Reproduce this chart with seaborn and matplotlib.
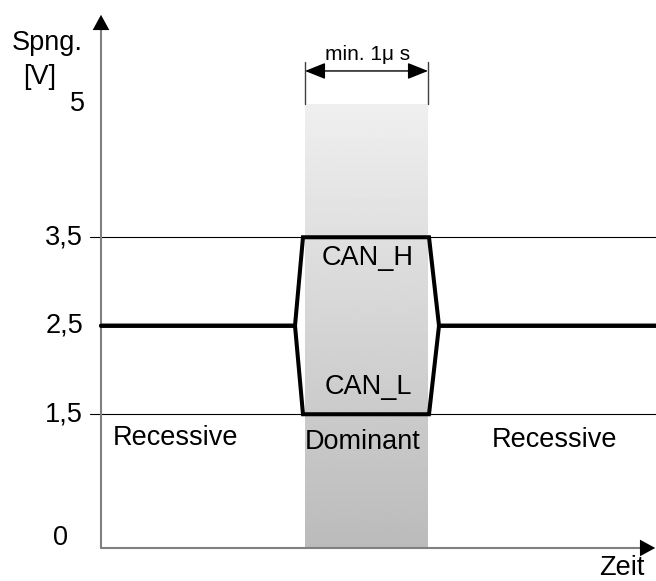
import numpy as np
import pandas as pd
import matplotlib
matplotlib.use("Agg")
import matplotlib.pyplot as plt
import seaborn as sns

# signal levels over time (time in arbitrary units from the y axis)
time_pts = [0, 194, 202, 328, 338, 555]
can_h = [2.5, 2.5, 3.5, 3.5, 2.5, 2.5]
can_l = [2.5, 2.5, 1.5, 1.5, 2.5, 2.5]

# dominant bit window and reference levels
dom_start, dom_end = 204, 327
dom_top = 5
ref_levels = [3.5, 1.5]

ytick_vals = [5, 3.5, 2.5, 1.5, 0]
ytick_labels = ["5", "3,5", "2,5", "1,5", "0"]

sns.set_style("white")
plt.rcParams['font.family'] = ['Liberation Sans', 'DejaVu Sans']
plt.rcParams['text.color'] = 'black'

fig = plt.figure(figsize=(6.56, 5.81), dpi=100)
ax = fig.add_axes([0, 0, 1, 1])
ax.set_axis_off()

# gradient for the dominant window
grad = np.linspace(239, 187, 256).reshape(-1, 1) / 255
ax.imshow(grad, cmap="gray", vmin=0, vmax=1, aspect="auto",
          extent=[dom_start, dom_end, 0, dom_top], zorder=0)

# thin reference lines
for lv in ref_levels:
    ax.plot([-11, 555], [lv, lv], color="black", lw=0.8, zorder=1)

df = pd.DataFrame({
    "t": time_pts * 2,
    "v": can_h + can_l,
    "signal": ["CAN_H"] * len(time_pts) + ["CAN_L"] * len(time_pts),
})
sns.lineplot(data=df, x="t", y="v", hue="signal", palette=["black", "black"],
             sort=False, estimator=None, legend=False, lw=2.9, ax=ax, zorder=3)
for ln in ax.lines[-2:]:
    ln.set_solid_joinstyle("miter")

# axes with arrows
axis_col = "#808080"
ax.plot([0, 0], [-0.011, 5.9], color=axis_col, lw=1.5, zorder=2)
ax.plot([0, 548], [-0.011, -0.011], color=axis_col, lw=1.5, zorder=2)
ax.annotate("", xy=(0, 6.045), xytext=(0, 5.8), annotation_clip=False,
            arrowprops=dict(arrowstyle="-|>,head_length=0.55,head_width=0.3",
                            color="black", lw=0, mutation_scale=20))
ax.annotate("", xy=(557, -0.011), xytext=(540, -0.011), annotation_clip=False,
            arrowprops=dict(arrowstyle="-|>,head_length=0.55,head_width=0.3",
                            color="black", lw=0, mutation_scale=20))

# dimension marker for the bit time
for xx in [dom_start, dom_end]:
    ax.plot([xx, xx], [dom_top, 5.48], color="#404040", lw=1, zorder=2)
ax.annotate("", xy=(dom_start, 5.379), xytext=(dom_end, 5.379),
            arrowprops=dict(arrowstyle="<|-|>,head_length=0.7,head_width=0.28",
                            color="black", lw=1, mutation_scale=18,
                            shrinkA=0, shrinkB=0))
ax.text((dom_start + dom_end) / 2 + 1, 5.56, "min. 1\u03bc s", ha="center",
        va="center", fontsize=15)

fs = 19.5
for v, lab in zip(ytick_vals, ytick_labels):
    if v == 0:
        ax.text(-33, 0.1, lab, ha="right", va="center", fontsize=fs)
    elif v == 5:
        ax.text(-16, v, lab, ha="right", va="center", fontsize=fs)
    else:
        ax.text(-18, v, lab, ha="right", va="center", fontsize=fs)

ax.text(-54, 5.695, "Spng.", ha="center", va="center", fontsize=fs)
ax.text(-61, 5.311, "[V]", ha="center", va="center", fontsize=fs)
ax.text(521, -0.237, "Zeit", ha="center", va="center", fontsize=fs)

ax.text(12, 1.232, "Recessive", ha="left", va="center", fontsize=fs)
ax.text(262, 1.186, "Dominant", ha="center", va="center", fontsize=fs)
ax.text(453, 1.209, "Recessive", ha="center", va="center", fontsize=fs)
ax.text(267, 3.266, "CAN_H", ha="center", va="center", fontsize=fs)
ax.text(267, 1.808, "CAN_L", ha="center", va="center", fontsize=fs)

ax.set_xlim(-101, 555)
ax.set_ylim((547 - 581) / 88.5, 547 / 88.5)

fig.savefig("out.png", dpi=100)
